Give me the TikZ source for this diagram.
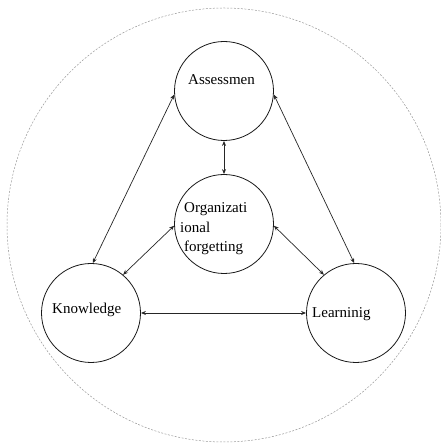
\documentclass[tikz,border=0pt]{standalone}
\usepackage{fontspec}
\setmainfont{Liberation Serif}
\usetikzlibrary{arrows.meta}
\begin{document}
\begin{tikzpicture}[x=1pt,y=1pt,
  bubble/.style={draw=black!90,line width=0.8pt,circle,minimum size=99pt,inner sep=0pt},
  lbl/.style={anchor=base west,inner sep=0pt,font=\fontsize{15}{18}\selectfont},
  link/.style={draw=black!85,line width=0.7pt,{Stealth[length=5pt,width=4pt]}-{Stealth[length=5pt,width=4pt]}},
  outer/.style={draw=black!40,line width=0.5pt,dash pattern=on 2pt off 1.5pt}]
\useasboundingbox (0,0) rectangle (441,444);
\node[outer,circle,minimum size=434pt,inner sep=0pt] (bg) at (224,219) {};
\node[bubble] (A) at (224,353) {};
\node[bubble] (O) at (224,220) {};
\node[bubble] (K) at (91,131) {};
\node[bubble] (L) at (356,131) {};
\node[lbl] (tA) at (188,359) {Assessmen};
\node[lbl] (tO1) at (184,231) {Organizati};
\node[lbl] (tO2) at (180,211) {ional};
\node[lbl] (tO3) at (184,192) {forgetting};
\node[lbl] (tK) at (52,130) {Knowledge};
\node[lbl] (tL) at (312,126) {Learninig};
\draw[link] (A.184) -- (K.88);
\draw[link] (A.-4) -- (L.92);
\draw[link] (A.south) -- (O.north);
\draw[link] (O.182) -- (K.50);
\draw[link] (O.-2) -- (L.130);
\draw[link] (K.east) -- (L.west);
\end{tikzpicture}
\end{document}
